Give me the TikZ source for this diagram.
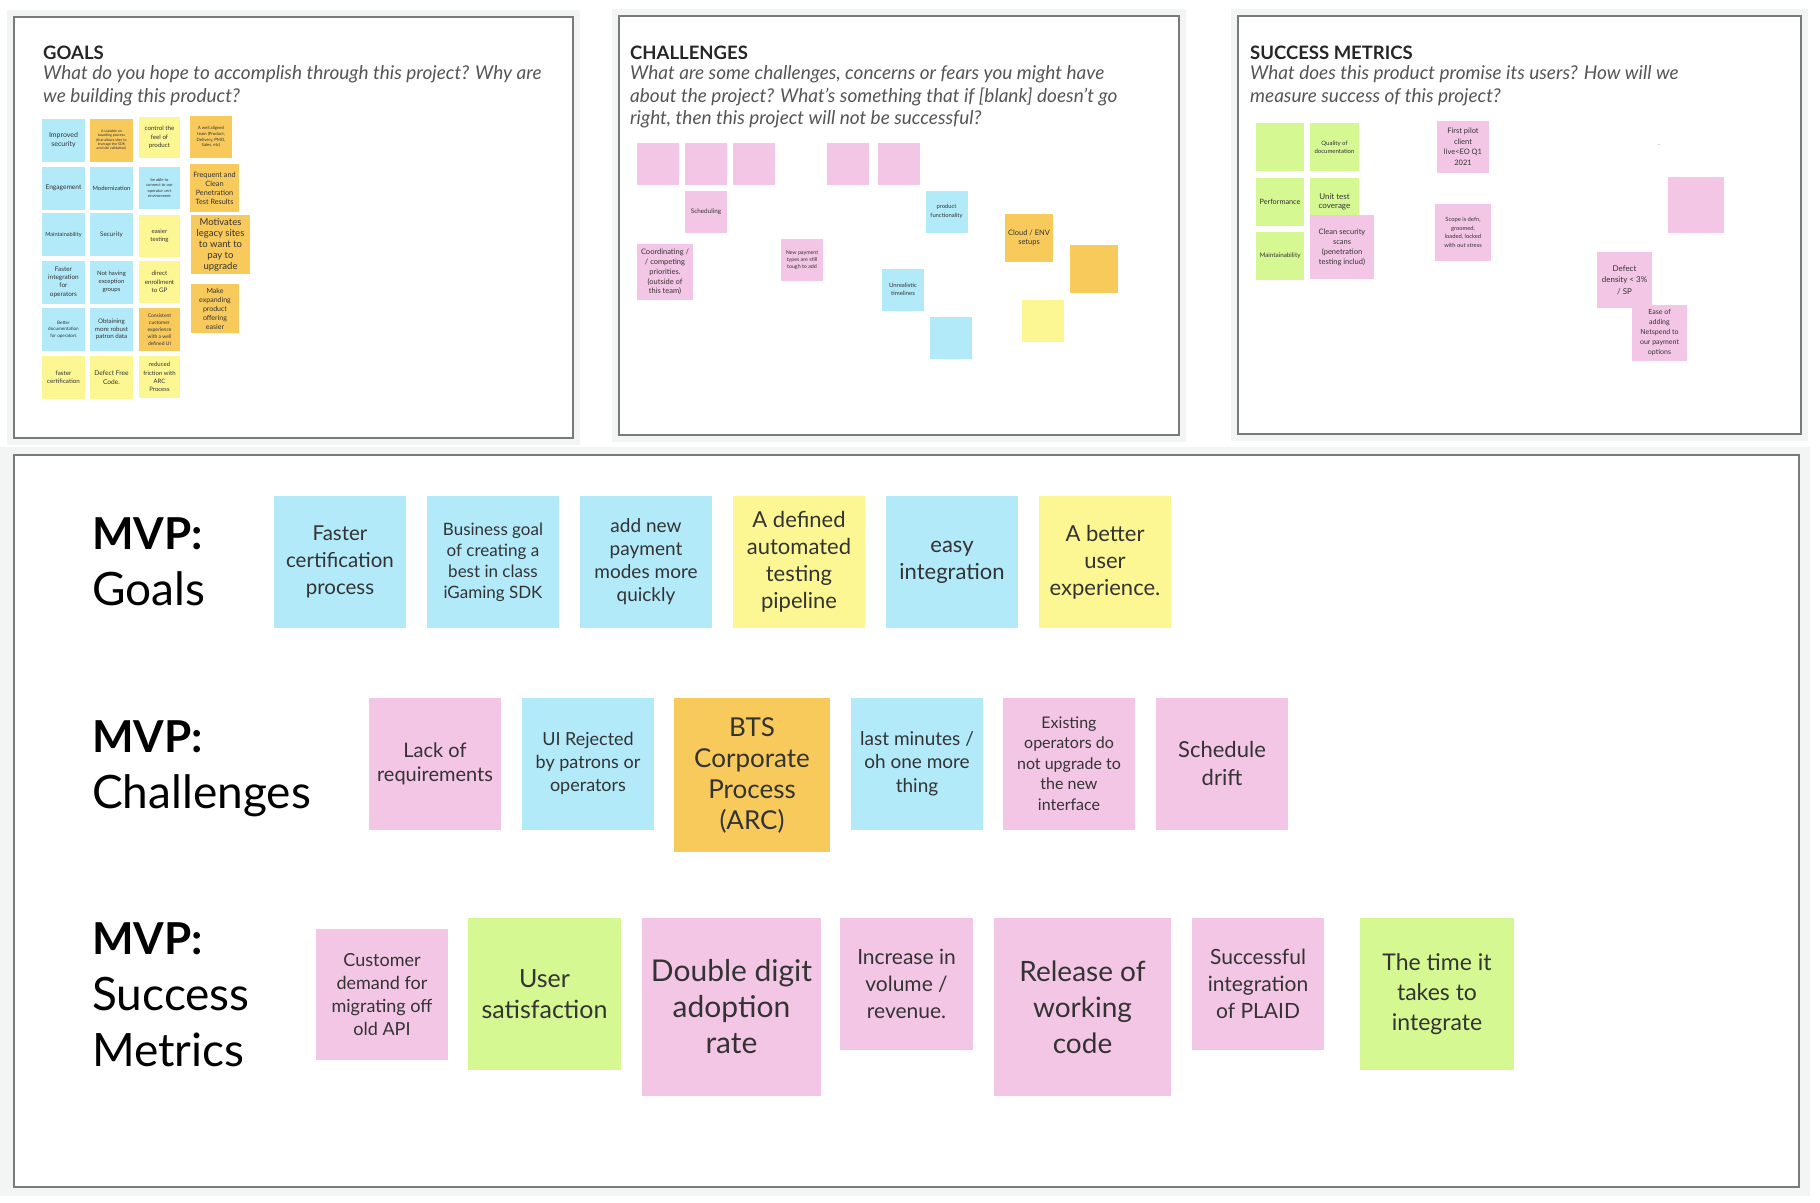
\documentclass[tikz,border=0pt]{standalone}
\usepackage{fontspec}
\setmainfont{Lato}
\definecolor{cBlue}{HTML}{B2EAFA}
\definecolor{cYellow}{HTML}{FCF792}
\definecolor{cOrange}{HTML}{F8CA5C}
\definecolor{cPink}{HTML}{F4C6E5}
\definecolor{cGreen}{HTML}{D6F893}
\definecolor{ink}{HTML}{333333}
\definecolor{qink}{HTML}{555555}
\definecolor{frameC}{HTML}{F3F5F5}
\definecolor{borderC}{HTML}{7A7A7A}
\newcommand{\bigword}[1]{{\fontsize{46}{56}\selectfont #1}}
\tikzset{
  note/.style={inner sep=0pt, outer sep=0pt, align=center, text=ink, minimum width=#1, minimum height=#1},
  nb/.style={note=#1, fill=cBlue},
  ny/.style={note=#1, fill=cYellow},
  no/.style={note=#1, fill=cOrange},
  np/.style={note=#1, fill=cPink},
  ng/.style={note=#1, fill=cGreen},
  fs/.style 2 args={font=\fontsize{#1}{#2}\selectfont},
  frame/.style={fill=frameC},
  panel/.style={draw=borderC, line width=1.3pt, fill=white},
  ptitle/.style={inner sep=0pt, anchor=north west, text=black!85, font=\fontsize{18.5}{22}\selectfont\bfseries},
  pquest/.style={inner sep=0pt, anchor=north west, align=left, text=qink, font=\fontsize{19}{22.5}\selectfont\itshape},
  lbl/.style={inner sep=0pt, anchor=north west, align=left, text=black, font=\fontsize{44}{56}\selectfont},
}
\begin{document}
\begin{tikzpicture}[x=1pt,y=-1pt]
\useasboundingbox (0,0) rectangle (1820,1202);
\fill[white] (0,0) rectangle (1820,1202);
% panels
\fill[frame] (7,10) rectangle (580,445);
\draw[panel] (14,17) rectangle (573,438);
\fill[frame] (612,9) rectangle (1186,442);
\draw[panel] (619,16) rectangle (1179,435);
\fill[frame] (1231,9) rectangle (1808,441);
\draw[panel] (1238,16) rectangle (1801,434);
\fill[frame] (0,447) rectangle (1810,1196);
\draw[panel] (14,455) rectangle (1799,1187);

% ---------- GOALS panel ----------
\node[ptitle] (tg) at (43,45.5) {GOALS};
\node[pquest] (qg) at (43,65.5) {What do you hope to accomplish through this project? Why are\\we building this product?};
\node[nb=43, fs={7}{9}] (gA) at (63.5,140) {Improved\\security};
\node[no=43, fs={3.6}{4.2}] (gB) at (111.5,140) {A scalable on\\boarding process\\(that allows sites to\\leverage the SDK\\and site validation)};
\node[ny=41, fs={6.2}{8.3}] (gC) at (159.5,137.5) {control the\\feel of\\product};
\node[no=42, fs={4.3}{5.8}] (gD) at (211,137) {A well aligned\\team (Product,\\Delivery, PMO,\\Sales, etc)};
\node[nb=43, fs={6.6}{8}] (gE) at (63.5,188) {Engagement};
\node[nb=43, fs={5.9}{8}] (gF) at (111.5,188) {Modernization};
\node[nb=41, minimum height=42, fs={4.1}{5.3}] (gG) at (159.5,188) {be able to\\connect to our\\operator cert\\environment};
\node[no=49, minimum height=48, fs={7.3}{9}] (gH) at (214.5,188) {Frequent and\\Clean\\Penetration\\Test Results};
\node[nb=43, fs={5.6}{8}] (gI) at (63.5,234.5) {Maintainability};
\node[nb=43, fs={6.3}{8}] (gJ) at (111.5,234.5) {Security};
\node[ny=41, minimum height=42, fs={6}{8.3}] (gK) at (159.5,236) {easier\\testing};
\node[no=59, fs={9.5}{11}] (gL) at (220.5,244.5) {Motivates\\legacy sites\\to want to\\pay to\\upgrade};
\node[nb=43, fs={6.4}{8.3}] (gM) at (63.5,282) {Faster\\integration\\for\\operators};
\node[nb=43, fs={6}{8.3}] (gN) at (111.5,282) {Not having\\exception\\groups};
\node[ny=41, minimum height=42, fs={6.2}{8.3}] (gO) at (159.5,282) {direct\\enrollment\\to GP};
\node[no=48, minimum height=49, fs={7}{9}] (gP) at (215,308.5) {Make\\expanding\\product\\offering\\easier};
\node[nb=43, fs={4.6}{6.3}] (gQ) at (63.5,329.5) {Better\\documentation\\for operators};
\node[nb=43, fs={6.2}{7.6}] (gR) at (111.5,329.5) {Obtaining\\more robust\\patron data};
\node[no=41, minimum height=43, fs={5}{7}] (gS) at (159.5,329.5) {Consistent\\customer\\experience\\with a well\\defined UI};
\node[ny=43, fs={6.2}{8.3}] (gT) at (63.5,377.5) {faster\\certification};
\node[ny=43, fs={6.6}{8.3}] (gU) at (111.5,377.5) {Defect Free\\Code.};
\node[ny=41, minimum height=42, fs={6}{8.3}] (gV) at (159.5,377) {reduced\\friction with\\ARC\\Process};

% ---------- CHALLENGES panel ----------
\node[ptitle] (tc) at (630,45.5) {CHALLENGES};
\node[pquest] (qc) at (630,65.5) {What are some challenges, concerns or fears you might have\\about the project? What's something that if [blank] doesn't go\\right, then this project will not be successful?};
\node[np=42] (c1) at (658,163.5) {};
\node[np=42] (c2) at (706,163.5) {};
\node[np=42] (c3) at (753.5,163.5) {};
\node[np=42] (c4) at (847.5,163.5) {};
\node[np=42] (c5) at (898.5,163.5) {};
\node[np=42, fs={6.3}{8}] (c6) at (706,211.5) {Scheduling};
\node[np=56, fs={7.5}{9.8}] (c7) at (665,272) {Coordinating /\\/ competing\\priorities.\\(outside of\\this team)};
\node[np=42, fs={5.3}{6.8}] (c8) at (802,260) {New payment\\types are still\\tough to add};
\node[nb=42, fs={5.8}{8.3}] (c9) at (946.5,211.5) {product\\functionality};
\node[no=48, fs={7.5}{9.3}] (c10) at (1029,238) {Cloud / ENV\\setups};
\node[no=48] (c11) at (1094,269) {};
\node[nb=42, fs={6}{8.5}] (c12) at (903,289.5) {Unrealistic\\timelines};
\node[nb=42] (c13) at (951,337.5) {};
\node[ny=42] (c14) at (1042.5,321) {};

% ---------- SUCCESS METRICS panel ----------
\node[ptitle] (ts) at (1250,45.5) {SUCCESS METRICS};
\node[pquest] (qs) at (1250,65.5) {What does this product promise its users? How will we\\measure success of this project?};
\node[ng=48] (s1) at (1280,147) {};
\node[ng=49, minimum height=48, fs={6}{8.3}] (s2) at (1334.5,147) {Quality of\\documentation};
\node[ng=48, fs={7.3}{9}] (s3) at (1280,202) {Performance};
\node[ng=49, minimum height=48, fs={8}{9.5}] (s4) at (1334.5,202) {Unit test\\coverage};
\node[ng=48, fs={6.3}{8}] (s6) at (1280,256) {Maintainability};
\node[np=64, fs={7.5}{10}] (s5) at (1342,247) {Clean security\\scans\\(penetration\\testing includ)};
\node[np=52, fs={7.5}{10.5}] (s7) at (1463,147) {First pilot\\client\\live<EO Q1\\2021};
\node[np=56, minimum height=57, fs={5.8}{8.5}] (s8) at (1463,232.5) {Scope is defn,\\groomed,\\loaded, locked\\with out stress};
\node[np=56] (s9) at (1696,205) {};
\node[np=55, minimum height=56, fs={8}{11.3}] (s10) at (1624.5,280) {Defect\\density < 3\%\\/ SP};
\node[np=55, minimum height=56, fs={7}{10}] (s11) at (1659.5,333) {Ease of\\adding\\Netspend to\\our payment\\options};
\node[inner sep=0pt, text=ink, fs={6}{7}] (dot) at (1659,145) {.};

% ---------- MVP rows ----------
\node[lbl] (lg) at (92,517) {\textbf{MVP:}\\\bigword{Goals}};
\node[nb=132, fs={20.5}{27}] (mg1) at (340,562) {Faster\\certification\\process};
\node[nb=132, fs={17}{21}] (mg2) at (493,562) {Business goal\\of creating a\\best in class\\iGaming SDK};
\node[nb=132, fs={19}{23}] (mg3) at (646,562) {add new\\payment\\modes more\\quickly};
\node[ny=132, fs={22}{27}] (mg4) at (799,562) {A defined\\automated\\testing\\pipeline};
\node[nb=132, fs={22}{27}] (mg5) at (952,562) {easy\\integration};
\node[ny=132, fs={22}{27}] (mg6) at (1105,562) {A better\\user\\experience.};

\node[lbl] (lc) at (92,720.5) {\textbf{MVP:}\\\bigword{Challenges}};
\node[np=132, fs={20}{24}] (mc1) at (435,763.5) {Lack of\\requirements};
\node[nb=132, fs={18}{23}] (mc2) at (588,763.5) {UI Rejected\\by patrons or\\operators};
\node[no=156, minimum height=154, fs={26}{31}] (mc3) at (752,775) {BTS\\Corporate\\Process\\(ARC)};
\node[nb=132, fs={19}{23.5}] (mc4) at (917,763.5) {last minutes /\\oh one more\\thing};
\node[np=132, fs={16}{20.5}] (mc5) at (1069,763.5) {Existing\\operators do\\not upgrade to\\the new\\interface};
\node[np=132, fs={22}{28}] (mc6) at (1222,763.5) {Schedule\\drift};

\node[lbl] (ls) at (92,922.5) {\textbf{MVP:}\\\bigword{Success}\\\bigword{Metrics}};
\node[np=132, minimum height=131, fs={18}{23}] (ms1) at (382,994.5) {Customer\\demand for\\migrating off\\old API};
\node[ng=153, minimum height=152, fs={25}{31}] (ms2) at (544.5,994) {User\\satisfaction};
\node[np=179, minimum height=178, fs={30}{36}] (ms3) at (731.5,1007) {Double digit\\adoption\\rate};
\node[np=133, minimum height=132, fs={21}{27}] (ms4) at (906.5,984) {Increase in\\volume /\\revenue.};
\node[np=177, minimum height=178, fs={28}{36}] (ms5) at (1082.5,1007) {Release of\\working\\code};
\node[np=132, fs={21}{27}] (ms6) at (1258,984) {Successful\\integration\\of PLAID};
\node[ng=154, minimum height=152, fs={23}{30}] (ms7) at (1437,994) {The time it\\takes to\\integrate};
\end{tikzpicture}
\end{document}
